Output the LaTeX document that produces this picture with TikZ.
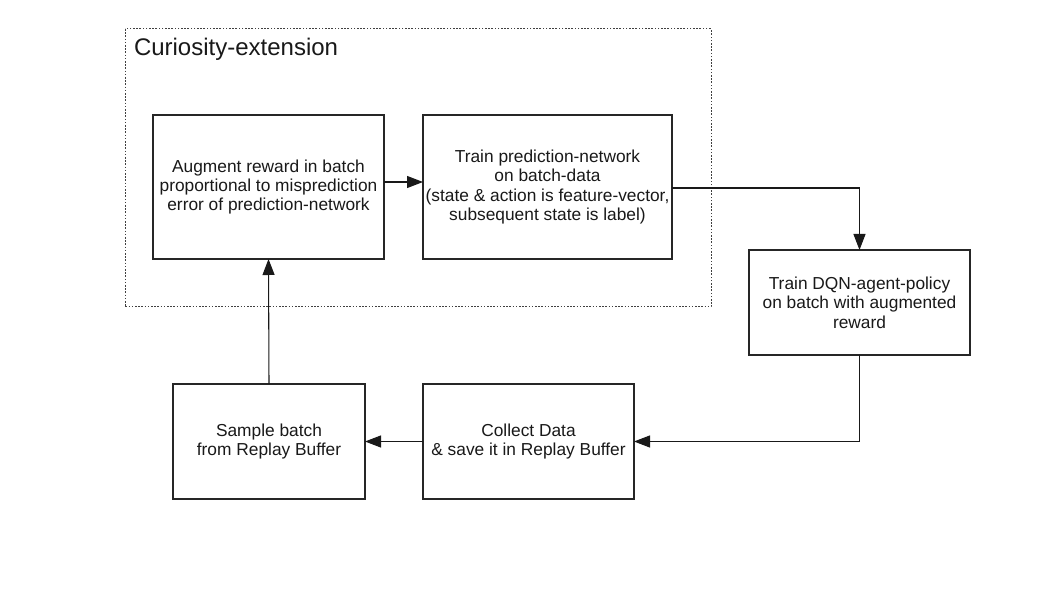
\documentclass[tikz,border=0pt]{standalone}
\usepackage{fontspec}
\setmainfont{Liberation Sans}
\usetikzlibrary{arrows.meta}
\begin{document}
\begin{tikzpicture}[x=0.75pt,y=-0.75pt,
  every node/.style={inner sep=0pt, outer sep=0pt},
  box/.style={draw=black!85, line width=0.9pt, fill=white, align=center,
    font=\fontsize{13}{14.6}\selectfont, text=black!90},
  conn/.style={draw=black!90, line width=0.8pt, -{Triangle[length=12pt,width=9pt]}},
  frame/.style={draw=black!75, line width=0.75pt, dash pattern=on 1.2pt off 1.2pt}]
\useasboundingbox (0,0) rectangle (1058,595);
\fill[white] (0,0) rectangle (1058,595);
\draw[frame] (125,29) rectangle (711,307);
\node[anchor=base west, font=\fontsize{18}{20}\selectfont, text=black!90] (title) at (134,56) {Curiosity-extension};
\node[box, minimum width={231*0.75pt}, minimum height={144*0.75pt}] (A) at (268.5,187) {Augment reward in batch\\proportional to misprediction\\error of prediction-network};
\node[box, minimum width={249*0.75pt}, minimum height={144*0.75pt}] (B) at (547.5,187) {Train prediction-network\\on batch-data\\(state \& action is feature-vector,\\subsequent state is label)};
\node[box, minimum width={221*0.75pt}, minimum height={105*0.75pt}] (C) at (859.5,302.5) {Train DQN-agent-policy\\on batch with augmented\\reward};
\node[box, minimum width={211*0.75pt}, minimum height={115*0.75pt}] (D) at (528.5,441.5) {Collect Data\\\& save it in Replay Buffer};
\node[box, minimum width={192*0.75pt}, minimum height={115*0.75pt}] (E) at (269,441.5) {Sample batch\\from Replay Buffer};
\draw[conn] (A.east |- 0,182) -- (B.west |- 0,182);
\draw[conn] (B.east |- 0,188) -| (C.north);
\draw[conn] (C.south) |- (D.east);
\draw[conn] (D.west) -- (E.east);
\draw[conn] (E.north) -- (A.south);
\end{tikzpicture}
\end{document}
